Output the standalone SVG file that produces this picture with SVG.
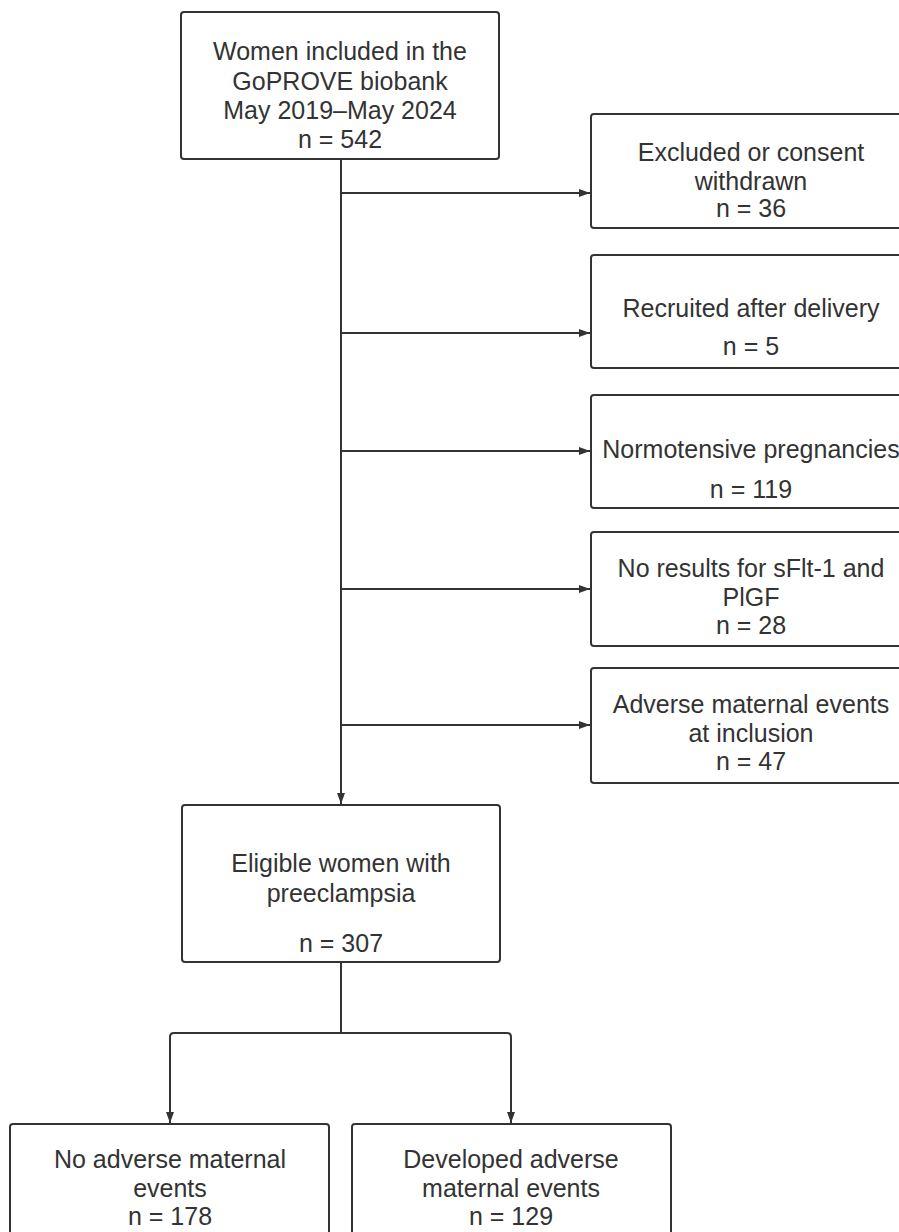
<svg xmlns="http://www.w3.org/2000/svg" width="899" height="1232" viewBox="0 0 899 1232">
<style>
.box{fill:#fff;stroke:#333;stroke-width:2}
.t{font-family:"Liberation Sans",Arial,sans-serif;font-size:25px;fill:#333;text-anchor:middle}
.c{fill:none;stroke:#333;stroke-width:2}
</style>
<defs>
<marker id="ah" markerUnits="userSpaceOnUse" markerWidth="12" markerHeight="10" refX="11" refY="5" orient="auto">
<path d="M0,1 L11,5 L0,9 Z" fill="#333"/>
</marker>
</defs>
<rect width="899" height="1232" fill="#fff"/>
<g id="connectors">
<path class="c" d="M341,159 V804" marker-end="url(#ah)"/>
<path class="c" d="M341,193 H590" marker-end="url(#ah)"/>
<path class="c" d="M341,333 H590" marker-end="url(#ah)"/>
<path class="c" d="M341,451 H590" marker-end="url(#ah)"/>
<path class="c" d="M341,589 H590" marker-end="url(#ah)"/>
<path class="c" d="M341,725 H590" marker-end="url(#ah)"/>
<path class="c" d="M341,962 V1033"/>
<path class="c" d="M341,1033 H174 Q170,1033 170,1037 V1123" marker-end="url(#ah)"/>
<path class="c" d="M341,1033 H507 Q511,1033 511,1037 V1123" marker-end="url(#ah)"/>
</g>
<g id="n-included">
<rect class="box" x="181" y="12" width="318" height="147" rx="3"/>
<text class="t" x="340" y="60">Women included in the</text>
<text class="t" x="340" y="90">GoPROVE biobank</text>
<text class="t" x="340" y="119">May 2019–May 2024</text>
<text class="t" x="340" y="148">n = 542</text>
</g>
<g id="n-excluded">
<rect class="box" x="591" y="114" width="320" height="114" rx="3"/>
<text class="t" x="751" y="161">Excluded or consent</text>
<text class="t" x="751" y="190">withdrawn</text>
<text class="t" x="751" y="217">n = 36</text>
</g>
<g id="n-recruited">
<rect class="box" x="591" y="255" width="320" height="113" rx="3"/>
<text class="t" x="751" y="317">Recruited after delivery</text>
<text class="t" x="751" y="355">n = 5</text>
</g>
<g id="n-normotensive">
<rect class="box" x="591" y="395" width="320" height="113" rx="3"/>
<text class="t" x="751" y="458">Normotensive pregnancies</text>
<text class="t" x="751" y="498">n = 119</text>
</g>
<g id="n-noresults">
<rect class="box" x="591" y="532" width="320" height="114" rx="3"/>
<text class="t" x="751" y="577">No results for sFlt-1 and</text>
<text class="t" x="751" y="606">PlGF</text>
<text class="t" x="751" y="634">n = 28</text>
</g>
<g id="n-adverse-inclusion">
<rect class="box" x="591" y="668" width="320" height="115" rx="3"/>
<text class="t" x="751" y="713">Adverse maternal events</text>
<text class="t" x="751" y="742">at inclusion</text>
<text class="t" x="751" y="770">n = 47</text>
</g>
<g id="n-eligible">
<rect class="box" x="182" y="805" width="318" height="157" rx="3"/>
<text class="t" x="341" y="872">Eligible women with</text>
<text class="t" x="341" y="902">preeclampsia</text>
<text class="t" x="341" y="952">n = 307</text>
</g>
<g id="n-no-adverse">
<rect class="box" x="10" y="1124" width="319" height="130" rx="3"/>
<text class="t" x="170" y="1168">No adverse maternal</text>
<text class="t" x="170" y="1197">events</text>
<text class="t" x="170" y="1225">n = 178</text>
</g>
<g id="n-developed">
<rect class="box" x="352" y="1124" width="319" height="130" rx="3"/>
<text class="t" x="511" y="1168">Developed adverse</text>
<text class="t" x="511" y="1197">maternal events</text>
<text class="t" x="511" y="1225">n = 129</text>
</g>
</svg>
